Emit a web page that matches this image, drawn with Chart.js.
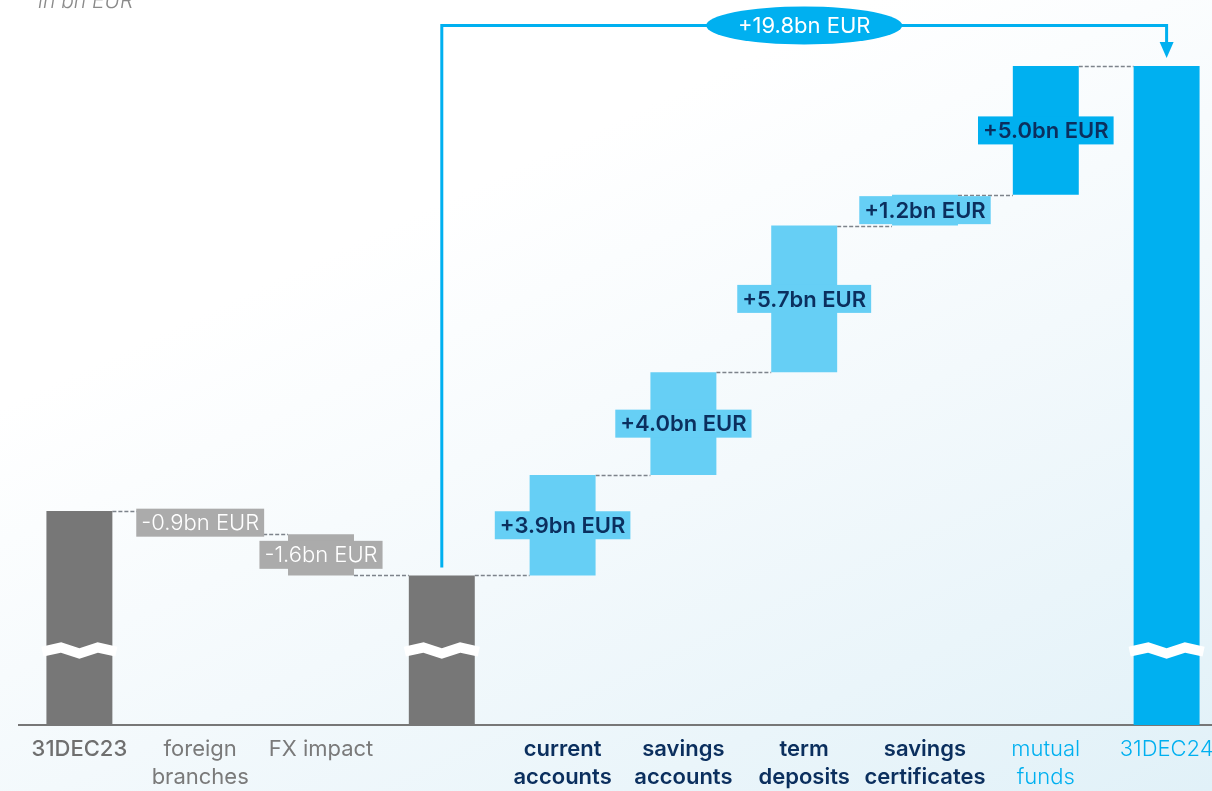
<!DOCTYPE html>
<html>
<head>
<meta charset="utf-8">
<script src="https://cdn.jsdelivr.net/npm/chart.js@4"></script>
<style>
  html, body {
    margin: 0;
    padding: 0;
    overflow: hidden;
    width: 1212px;
    height: 791px;
    background: linear-gradient(155deg, #ffffff 30%, #f3f9fc 60%, #e1f1f8 100%);
  }
  #wrap {
    position: absolute;
    left: 0;
    top: 0;
    width: 1230px;
    height: 801px;
  }
</style>
</head>
<body>
<div id="wrap"><canvas id="mychart"></canvas></div>
<script>
//categories on the x axis (multi line labels)
let categories = [
  ["31DEC23"],
  ["foreign", "branches"],
  ["FX impact"],
  [""],
  ["current", "accounts"],
  ["savings", "accounts"],
  ["term", "deposits"],
  ["savings", "certificates"],
  ["mutual", "funds"],
  ["31DEC24"],
];

//changes in bn EUR, null = total bar (axis is broken, totals not labelled)
let changes = [null, -0.9, -1.6, null, 3.9, 4.0, 5.7, 1.2, 5.0, null];

//visible height of the 31DEC23 bar above the axis break, bn EUR
let startLevel = 8.32;

//total increase shown in the bracket
let totalIncrease = 19.8;

//where the break marks sit on the total bars
let breakLevel = 2.9;
let bracketLevel = 27.2;
let yMax = 28.19;

let gray = "#777777";
let grayLight = "#ababab";
let lightBlue = "#66cff5";
let blue = "#00b0f0";
let navy = "#0b2f5e";

let barColors = [gray, grayLight, grayLight, gray, lightBlue, lightBlue, lightBlue, lightBlue, blue, blue];
let tickColors = ["#6f6f6f", "#7a7a7a", "#7a7a7a", "#7a7a7a", navy, navy, navy, navy, blue, blue];
let tickWeights = ["500", "400", "400", "400", "600", "600", "600", "600", "300", "300"];

//build floating bars for the waterfall
let running = startLevel;
let ranges = [];
let levels = [];
changes.forEach((c, i) => {
  if (c === null) {
    ranges.push([0, running]);
  } else {
    let before = running;
    running = running + c;
    ranges.push([Math.min(before, running), Math.max(before, running)]);
  }
  levels.push(running);
});

function fmt(v) {
  return (v > 0 ? "+" : "-") + Math.abs(v).toFixed(1) + "bn EUR";
}

const waterfallPlugin = {
  id: "waterfall",
  //dashed connectors between bars
  beforeDatasetsDraw(chart) {
    let ctx = chart.ctx;
    let y = chart.scales.y;
    let bars = chart.getDatasetMeta(0).data;
    ctx.save();
    ctx.strokeStyle = "#7d838b";
    ctx.lineWidth = 1.3;
    ctx.setLineDash([4, 2]);
    for (let i = 0; i < bars.length - 1; i++) {
      let py = Math.round(y.getPixelForValue(levels[i])) + 0.5;
      ctx.beginPath();
      ctx.moveTo(bars[i].x + bars[i].width / 2, py);
      ctx.lineTo(bars[i + 1].x - bars[i + 1].width / 2, py);
      ctx.stroke();
    }
    ctx.restore();
  },
  afterDatasetsDraw(chart) {
    let ctx = chart.ctx;
    let y = chart.scales.y;
    let bars = chart.getDatasetMeta(0).data;
    ctx.save();

    //axis break marks on total bars
    let by = y.getPixelForValue(breakLevel);
    ctx.strokeStyle = "#ffffff";
    ctx.lineWidth = 10;
    ctx.lineJoin = "miter";
    changes.forEach((c, i) => {
      if (c !== null) return;
      let b = bars[i];
      let l = b.x - b.width / 2;
      let w = b.width;
      ctx.beginPath();
      ctx.moveTo(l - 4, by + 1);
      ctx.lineTo(l + w * 0.22, by - 3);
      ctx.lineTo(l + w * 0.5, by + 3);
      ctx.lineTo(l + w * 0.78, by - 3);
      ctx.lineTo(l + w + 4, by + 1);
      ctx.stroke();
    });

    //value labels in boxes
    ctx.textAlign = "center";
    ctx.textBaseline = "middle";
    changes.forEach((c, i) => {
      if (c === null) return;
      let b = bars[i];
      let cy = (b.y + b.base) / 2;
      let txt = fmt(c);
      ctx.font = c < 0 ? "300 22px Inter" : "600 22px Inter";
      let tw = ctx.measureText(txt).width;
      ctx.fillStyle = barColors[i];
      ctx.fillRect(b.x - tw / 2 - 5, cy - 14, tw + 10, 28);
      ctx.fillStyle = c < 0 ? "#ffffff" : navy;
      ctx.fillText(txt, b.x, cy + 1);
    });
    ctx.restore();
  },
  afterDraw(chart) {
    let ctx = chart.ctx;
    let y = chart.scales.y;
    let bars = chart.getDatasetMeta(0).data;
    let from = bars[3];
    let to = bars[9];
    let top = y.getPixelForValue(bracketLevel);
    ctx.save();

    //bracket with arrow from subtotal to 31DEC24
    ctx.strokeStyle = blue;
    ctx.lineWidth = 3;
    ctx.beginPath();
    ctx.moveTo(from.x, from.y - 8);
    ctx.lineTo(from.x, top);
    ctx.lineTo(to.x, top);
    ctx.lineTo(to.x, to.y - 22);
    ctx.stroke();
    ctx.fillStyle = blue;
    ctx.beginPath();
    ctx.moveTo(to.x - 7, to.y - 24);
    ctx.lineTo(to.x + 7, to.y - 24);
    ctx.lineTo(to.x, to.y - 8);
    ctx.closePath();
    ctx.fill();

    //oval label
    let mx = (from.x + to.x) / 2;
    ctx.beginPath();
    ctx.ellipse(mx, top, 98, 19, 0, 0, Math.PI * 2);
    ctx.fill();
    ctx.fillStyle = "#ffffff";
    ctx.font = "400 22px Inter";
    ctx.textAlign = "center";
    ctx.textBaseline = "middle";
    ctx.fillText("+" + totalIncrease.toFixed(1) + "bn EUR", mx, top + 1);

    //unit note, cut at the top edge
    ctx.fillStyle = "#8a8a8a";
    ctx.font = "italic 300 21px Inter";
    ctx.textAlign = "left";
    ctx.textBaseline = "alphabetic";
    ctx.fillText("in bn EUR", 38, 8);
    ctx.restore();
  },
};

let data = {
  labels: categories,
  datasets: [
    {
      data: ranges,
      backgroundColor: barColors,
      borderWidth: 0,
      barPercentage: 0.546,
      categoryPercentage: 1,
    },
  ],
};

let options = {
  responsive: true,
  maintainAspectRatio: false,
  animation: false,
  devicePixelRatio: 1,
  layout: {
    padding: { left: 19, right: 3, top: 0, bottom: 0 },
  },
  plugins: {
    legend: { display: false },
    tooltip: { enabled: false },
  },
  scales: {
    x: {
      grid: { display: false, drawTicks: false },
      border: { display: true, color: "#777777", width: 2 },
      ticks: {
        padding: 10,
        maxRotation: 0,
        autoSkip: false,
        color: (c) => tickColors[c.index],
        font: (c) => ({ family: "Inter", size: 22, weight: tickWeights[c.index], lineHeight: 1.27 }),
      },
    },
    y: {
      display: false,
      min: 0,
      max: yMax,
    },
  },
};

const config = {
  type: "bar",
  data: data,
  options: options,
  plugins: [waterfallPlugin],
};
let chart = new Chart(document.getElementById("mychart"), config);
</script>
</body>
</html>
